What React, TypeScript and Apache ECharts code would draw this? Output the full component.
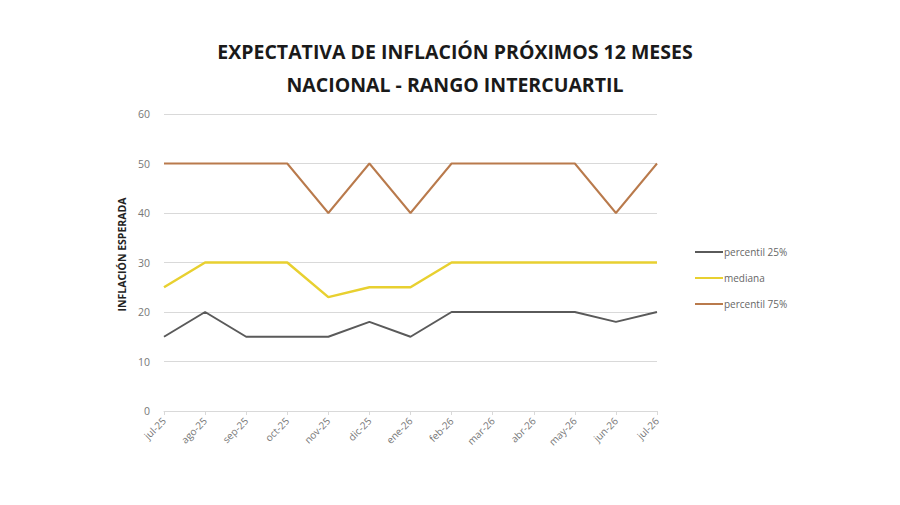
import React, { useEffect, useRef } from "react";
import * as echarts from "echarts";

const categories = ["jul-25", "ago-25", "sep-25", "oct-25", "nov-25", "dic-25", "ene-26", "feb-26", "mar-26", "abr-26", "may-26", "jun-26", "jul-26"];
const percentil25 = [15, 20, 15, 15, 15, 18, 15, 20, 20, 20, 20, 18, 20];
const mediana = [25, 30, 30, 30, 23, 25, 25, 30, 30, 30, 30, 30, 30];
const percentil75 = [50, 50, 50, 50, 40, 50, 40, 50, 50, 50, 50, 40, 50];

export default function App() {
  const ref = useRef<HTMLDivElement>(null);
  useEffect(() => {
    if (!ref.current) return;
    const chart = echarts.init(ref.current, null, { renderer: "svg" });
    const font = "'Open Sans', 'Liberation Sans', sans-serif";
    chart.setOption({
      animation: false,
      backgroundColor: "#ffffff",
      title: {
        text: "EXPECTATIVA DE INFLACIÓN PRÓXIMOS 12 MESES\nNACIONAL - RANGO INTERCUARTIL",
        left: 450,
        textAlign: "center",
        top: 30,
        textStyle: { fontFamily: font, fontSize: 19.5, fontWeight: "bold", color: "#1a1a1a", lineHeight: 33 },
      },
      legend: {
        orient: "vertical",
        left: 690,
        top: 242,
        itemGap: 16,
        itemWidth: 28,
        itemHeight: 2,
        icon: "rect",
        textStyle: { fontFamily: font, fontSize: 10, color: "#666", padding: [0, 0, 0, -4] },
        data: ["percentil 25%", "mediana", "percentil 75%"],
      },
      grid: { left: 164, right: 243, top: 114, bottom: 94 },
      xAxis: {
        type: "category",
        data: categories,
        boundaryGap: false,
        axisLine: { lineStyle: { color: "#d9d9d9" } },
        axisTick: { show: true, alignWithLabel: true, lineStyle: { color: "#d9d9d9" }, length: 4 },
        axisLabel: { rotate: 45, fontFamily: font, fontSize: 10, color: "#777", margin: 8, interval: 0 },
      },
      yAxis: {
        type: "value",
        min: 0,
        max: 60,
        interval: 10,
        name: "INFLACIÓN ESPERADA",
        nameLocation: "middle",
        nameGap: 34,
        nameTextStyle: { fontFamily: font, fontSize: 10.5, fontWeight: "bold", color: "#222", padding: [0, 0, 0, 16] },
        axisLine: { show: false },
        axisTick: { show: false },
        axisLabel: { fontFamily: font, fontSize: 10.5, color: "#777", margin: 14 },
        splitLine: { lineStyle: { color: "#d9d9d9", width: 1 } },
      },
      series: [
        { name: "percentil 25%", type: "line", data: percentil25, symbol: "none", lineStyle: { color: "#5a5a5a", width: 2 }, itemStyle: { color: "#5a5a5a" } },
        { name: "mediana", type: "line", data: mediana, symbol: "none", lineStyle: { color: "#e8d030", width: 2.5 }, itemStyle: { color: "#e8d030" } },
        { name: "percentil 75%", type: "line", data: percentil75, symbol: "none", lineStyle: { color: "#b97a4c", width: 2 }, itemStyle: { color: "#b97a4c" } },
      ],
    });
    return () => chart.dispose();
  }, []);
  return <div ref={ref} style={{ width: 900, height: 505, position: "fixed", left: 0, top: 0 }} />;
}
